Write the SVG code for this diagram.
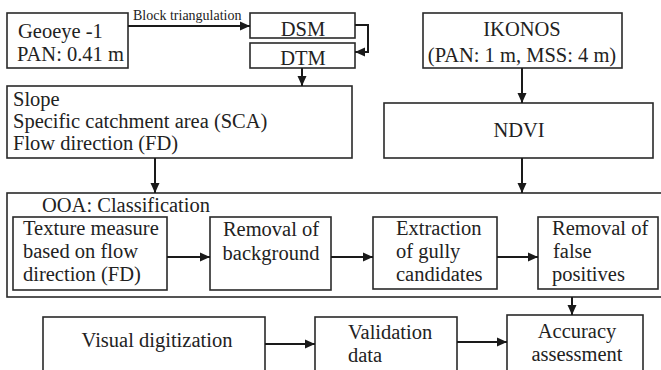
<svg xmlns="http://www.w3.org/2000/svg" width="661" height="370" viewBox="0 0 661 370">
<defs>
<marker id="ah" markerUnits="userSpaceOnUse" markerWidth="10" markerHeight="10" viewBox="0 0 10 10" refX="10" refY="5" orient="auto">
<path d="M0,0.5 L10,5 L0,9.5 Z" fill="#1a1a1a"/>
</marker>
<style>
.box{fill:#fff;stroke:#2a2a2a;stroke-width:1.6}
.t{font-family:'Liberation Serif','Times New Roman','DejaVu Serif',serif;font-size:20.5px;fill:#222}
.c{text-anchor:middle}
.lbl{font-family:'Liberation Serif','Times New Roman','DejaVu Serif',serif;font-size:14px;fill:#222}
.ln{fill:none;stroke:#1a1a1a;stroke-width:2;marker-end:url(#ah)}
</style>
</defs>
<rect width="661" height="370" fill="#fff"/>
<g font-family="'Liberation Serif', 'Times New Roman', serif">
<g id="geoeye">
<rect class="box" x="7" y="13" width="121" height="55"/>
<text class="t" x="18" y="38">Geoeye -1</text>
<text class="t" x="17" y="61">PAN: 0.41 m</text>
</g>
<g id="dsm">
<rect class="box" x="250" y="13" width="105" height="25"/>
<text class="t c" x="303" y="36">DSM</text>
</g>
<g id="dtm">
<rect class="box" x="250" y="43" width="105" height="25"/>
<text class="t c" x="303" y="65">DTM</text>
</g>
<g id="ikonos">
<rect class="box" x="423" y="13" width="199" height="55"/>
<text class="t c" x="522" y="36">IKONOS</text>
<text class="t c" x="522" y="62">(PAN: 1 m, MSS: 4 m)</text>
</g>
<g id="terrain">
<rect class="box" x="7" y="86" width="345" height="72"/>
<text class="t" x="13" y="106">Slope</text>
<text class="t" x="13" y="128">Specific catchment area (SCA)</text>
<text class="t" x="13" y="150">Flow direction (FD)</text>
</g>
<g id="ndvi">
<rect class="box" x="384" y="103" width="269" height="55"/>
<text class="t c" x="519" y="137">NDVI</text>
</g>
<g id="ooa">
<rect class="box" x="7" y="193" width="656" height="104"/>
<text class="t" x="42" y="212">OOA: Classification</text>
</g>
<g id="texture">
<rect class="box" x="13" y="217" width="154" height="73"/>
<text class="t" x="23" y="235">Texture measure</text>
<text class="t" x="23" y="258">based on flow</text>
<text class="t" x="23" y="281">direction (FD)</text>
</g>
<g id="background">
<rect class="box" x="210" y="217" width="121" height="73"/>
<text class="t c" x="271" y="236">Removal of</text>
<text class="t c" x="271" y="260">background</text>
</g>
<g id="extraction">
<rect class="box" x="373" y="217" width="124" height="72"/>
<text class="t" x="396" y="235">Extraction</text>
<text class="t" x="396" y="258">of gully</text>
<text class="t" x="396" y="281">candidates</text>
</g>
<g id="falsepos">
<rect class="box" x="538" y="217" width="120" height="72"/>
<text class="t" x="552" y="235">Removal of</text>
<text class="t" x="553" y="258">false</text>
<text class="t" x="552" y="281">positives</text>
</g>
<g id="visual">
<rect class="box" x="43" y="317" width="222" height="60"/>
<text class="t c" x="157" y="347">Visual digitization</text>
</g>
<g id="validation">
<rect class="box" x="315" y="317" width="142" height="60"/>
<text class="t" x="348" y="339">Validation</text>
<text class="t" x="348" y="362">data</text>
</g>
<g id="accuracy">
<rect class="box" x="507" y="315" width="136" height="62"/>
<text class="t c" x="577" y="338">Accuracy</text>
<text class="t c" x="577" y="361">assessment</text>
</g>
<g id="connectors">
<path class="ln" d="M128,26 H250"/>
<text class="lbl" x="133" y="20">Block triangulation</text>
<path class="ln" d="M355,25 H368 V52 H355"/>
<path class="ln" d="M302,68 V86"/>
<path class="ln" d="M522,68 V103"/>
<path class="ln" d="M155,158 V193"/>
<path class="ln" d="M522,158 V193"/>
<path class="ln" d="M167,257 H210"/>
<path class="ln" d="M331,257 H373"/>
<path class="ln" d="M497,257 H538"/>
<path class="ln" d="M572,297 V315"/>
<path class="ln" d="M265,344 H315"/>
<path class="ln" d="M457,342 H507"/>
</g>
</g>
</svg>
